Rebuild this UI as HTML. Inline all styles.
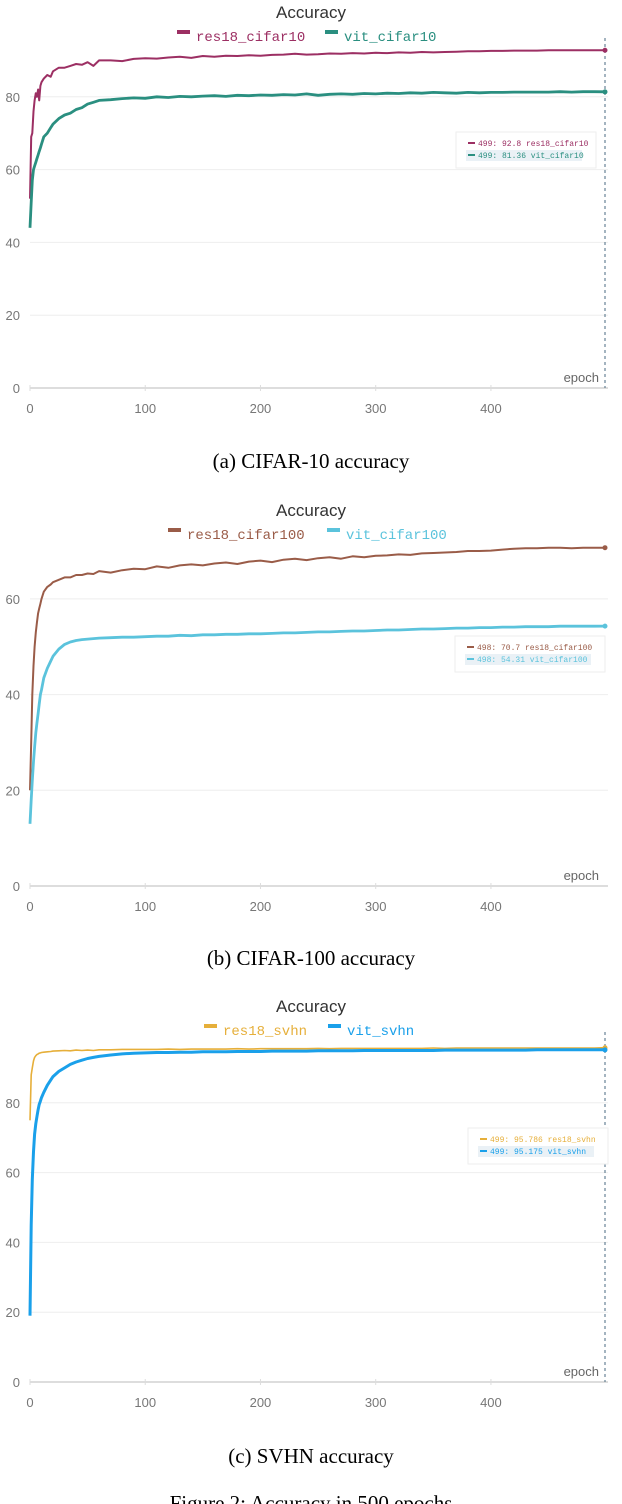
<!DOCTYPE html>
<html><head><meta charset="utf-8"><style>
body{margin:0;background:#fff;width:622px;height:1504px;overflow:hidden}
svg{display:block}
text{font-family:"Liberation Sans","DejaVu Sans",sans-serif}
.mono{font-family:"Liberation Mono","DejaVu Sans Mono",monospace}
.cap{font-family:"Liberation Serif",serif;font-size:21px;fill:#000}
</style></head><body>
<svg id="s" width="622" height="1504" viewBox="0 0 622 1504">
<text class="cap" x="311" y="468" text-anchor="middle">(a) CIFAR-10 accuracy</text>
<text class="cap" x="311" y="965" text-anchor="middle">(b) CIFAR-100 accuracy</text>
<text class="cap" x="311" y="1463" text-anchor="middle">(c) SVHN accuracy</text>
<text class="cap" x="311" y="1510" text-anchor="middle">Figure 2: Accuracy in 500 epochs</text>
</svg>
<script>
const epochs=[0,1,2,3,4,5,6,7,8,9,10,12,15,18,20,25,30,35,40,45,50,55,60,70,80,90,100,110,120,130,140,150,160,170,180,190,200,210,220,230,240,250,260,270,280,290,300,310,320,330,340,350,360,370,380,390,400,410,420,430,440,450,460,470,480,490,499];
const xTicks=[0,100,200,300,400];
const res18Cifar10=[52,69,70,76,79,81,80,82,79,83,84,85,86,85.5,87,88,88,88.5,89,88.8,89.5,88.5,90,90,89.8,90.4,90.6,90.5,90.8,91,90.7,91.2,91,91.3,91.2,91.4,91.3,91.5,91.6,91.8,91.6,91.7,91.9,91.8,92,91.9,92.1,92,92.2,92.1,92.3,92.2,92.3,92.4,92.5,92.5,92.6,92.6,92.7,92.7,92.7,92.8,92.8,92.8,92.8,92.8,92.8];
const vitCifar10=[44,51,57,60,61,62,63,64,65,66,67,69,70,71.5,72.5,74,75,75.5,76.5,77,78,78.5,79,79.2,79.5,79.7,79.6,80,79.8,80.1,80,80.2,80.3,80.1,80.4,80.3,80.5,80.4,80.6,80.5,80.8,80.4,80.7,80.8,80.7,80.9,80.8,81,80.9,81.1,81,81.2,81.1,81,81.2,81.1,81.2,81.2,81.3,81.3,81.3,81.3,81.4,81.3,81.4,81.4,81.36];
const res18Cifar100=[20,30,40,46,50,53,55,57,58,59,60,61.5,62.5,63,63.5,64,64.5,64.5,65,65,65.3,65.2,65.8,65.5,66,66.3,66.2,66.8,66.5,67,67.2,67,67.4,67.6,67.3,67.8,68,67.7,68.2,68.4,68.1,68.5,68.7,68.4,68.9,68.7,69,69.1,69.3,69.2,69.5,69.6,69.7,69.8,70,70,70.1,70.3,70.5,70.6,70.6,70.7,70.7,70.6,70.7,70.7,70.7];
const vitCifar100=[13,18,22,26,29,32,34,36,38,40,41,43.5,45.5,47,48,49.5,50.5,51,51.3,51.5,51.6,51.7,51.8,51.9,52,52,52.1,52.2,52.2,52.4,52.3,52.5,52.5,52.6,52.6,52.7,52.7,52.8,52.9,52.9,53,53.1,53.1,53.2,53.3,53.3,53.4,53.5,53.5,53.6,53.7,53.7,53.8,53.9,53.9,54,54,54.1,54.1,54.2,54.2,54.2,54.3,54.3,54.3,54.3,54.31];
const res18Svhn=[75,88,90,92,93,93.5,93.8,94,94.2,94.3,94.4,94.5,94.6,94.7,94.8,94.9,95,94.9,95.1,95,95.1,95,95.2,95.2,95.3,95.3,95.3,95.3,95.4,95.3,95.4,95.4,95.4,95.4,95.5,95.4,95.5,95.5,95.5,95.5,95.5,95.6,95.5,95.6,95.6,95.6,95.6,95.6,95.6,95.6,95.6,95.7,95.6,95.7,95.7,95.7,95.7,95.7,95.7,95.7,95.7,95.7,95.7,95.7,95.7,95.7,95.786];
const vitSvhn=[19,45,58,66,71,74,76,78,79.5,80.5,81.5,83,85,86.5,87.5,89,90,91,91.7,92.2,92.7,93,93.3,93.7,94,94.2,94.3,94.4,94.4,94.5,94.5,94.6,94.6,94.6,94.7,94.7,94.7,94.8,94.8,94.8,94.8,94.9,94.9,94.9,94.9,95,95,95,95,95,95,95,95.1,95.1,95.1,95.1,95.1,95.1,95.1,95.1,95.2,95.2,95.2,95.2,95.2,95.2,95.175];
const yTicksA=[0,20,40,60,80];
const NS="http://www.w3.org/2000/svg";
const svg=document.getElementById('s');
function mk(tag,attrs,parent,txt){const e=document.createElementNS(NS,tag);for(const k in attrs)e.setAttribute(k,attrs[k]);if(txt!==undefined)e.textContent=txt;(parent||svg).appendChild(e);return e;}
function chart(cfg){
  const g=mk('g',{});
  
  
  const X0=30,X1=608,xs=(X1-X0-3)/499;
  const x=e=>X0+e*xs, y=v=>cfg.y0-v*cfg.ys;
  const t=mk('text',{x:311,y:cfg.top+18,'text-anchor':'middle','font-size':17,fill:'#333'},g,'Accuracy');
  
  
  cfg.series.forEach((s,i)=>{
    const lg=mk('g',{},g);
    
    
    mk('rect',{x:cfg.lx[i],y:cfg.top+30,width:13,height:4,fill:s.color},lg);
    mk('text',{x:cfg.lx[i]+19,y:cfg.top+41,'font-size':14,fill:s.color,'class':'mono'},lg,s.label);
  });
  cfg.yTicks.forEach(v=>{
    if(v>0)mk('line',{x1:X0,x2:X1,y1:y(v),y2:y(v),stroke:'#eee','stroke-width':1},g);
    const l=mk('text',{x:20,y:y(v)+5,'text-anchor':'end','font-size':13,fill:'#777'},g,v);
    
    
  });
  mk('line',{x1:X0,x2:X1,y1:cfg.y0,y2:cfg.y0,stroke:'#ddd','stroke-width':2},g);
  xTicks.forEach(v=>{
    mk('line',{x1:x(v),x2:x(v),y1:cfg.y0-3,y2:cfg.y0+3,stroke:'#ddd'},g);
    const l=mk('text',{x:x(v),y:cfg.y0+25,'text-anchor':'middle','font-size':13,fill:'#777'},g,v);
    
    
  });
  const xl=mk('text',{x:599,y:cfg.y0-6,'text-anchor':'end','font-size':13,fill:'#666'},g,'epoch');
  
  
  if(cfg.dash)mk('line',{x1:x(499),x2:x(499),y1:cfg.top+38,y2:cfg.y0,stroke:'#4a6a80','stroke-width':1,'stroke-dasharray':'3,3'},g);
  cfg.series.forEach(s=>{
    const d=epochs.map((e,i)=>(i?'L':'M')+x(e).toFixed(1)+','+y(s.data[i]).toFixed(1)).join('');
    const p=mk('path',{d:d,fill:'none',stroke:s.color,'stroke-width':s.w,'stroke-linejoin':'round'},g);
    
    
    mk('circle',{cx:x(499),cy:y(s.data[s.data.length-1]),r:2.5,fill:s.color},g);
  });
  const tb=cfg.tip;
  const tg=mk('g',{},g);
  
  
  mk('rect',{x:tb.x,y:tb.y,width:tb.w,height:tb.h,fill:'#fff',stroke:'#eee'},tg);
  cfg.series.forEach((s,i)=>{
    const ry=tb.y+13+i*12;
    if(i==1)mk('rect',{x:tb.x+10,y:ry-7,width:tb.w-24,height:11,fill:'#eaf1f6'},tg);
    mk('rect',{x:tb.x+12,y:ry-3,width:7,height:2,fill:s.color},tg);
    mk('text',{x:tb.x+22,y:ry+1,'font-size':8,fill:s.color,'class':'mono'},tg,s.tip);
  });
}
chart({name:'chart-cifar10',top:0,y0:388,ys:3.64,yTicks:yTicksA,dash:true,lx:[177,325],
  tip:{x:456,y:132,w:140,h:36},
  series:[{label:'res18_cifar10',color:'#9c2f63',data:res18Cifar10,w:2,tip:'499: 92.8 res18_cifar10'},
          {label:'vit_cifar10',color:'#2a8f80',data:vitCifar10,w:2.8,tip:'499: 81.36 vit_cifar10'}]});
chart({name:'chart-cifar100',top:498,y0:886,ys:4.785,yTicks:[0,20,40,60],dash:false,lx:[168,327],
  tip:{x:455,y:636,w:150,h:36},
  series:[{label:'res18_cifar100',color:'#9a5c48',data:res18Cifar100,w:2,tip:'498: 70.7 res18_cifar100'},
          {label:'vit_cifar100',color:'#5bc3dc',data:vitCifar100,w:2.8,tip:'498: 54.31 vit_cifar100'}]});
chart({name:'chart-svhn',top:994,y0:1382,ys:3.49,yTicks:yTicksA,dash:true,lx:[204,328],
  tip:{x:468,y:1128,w:140,h:36},
  series:[{label:'res18_svhn',color:'#e6af3a',data:res18Svhn,w:1.6,tip:'499: 95.786 res18_svhn'},
          {label:'vit_svhn',color:'#1aa0ea',data:vitSvhn,w:3,tip:'499: 95.175 vit_svhn'}]});
</script>
</body></html>
